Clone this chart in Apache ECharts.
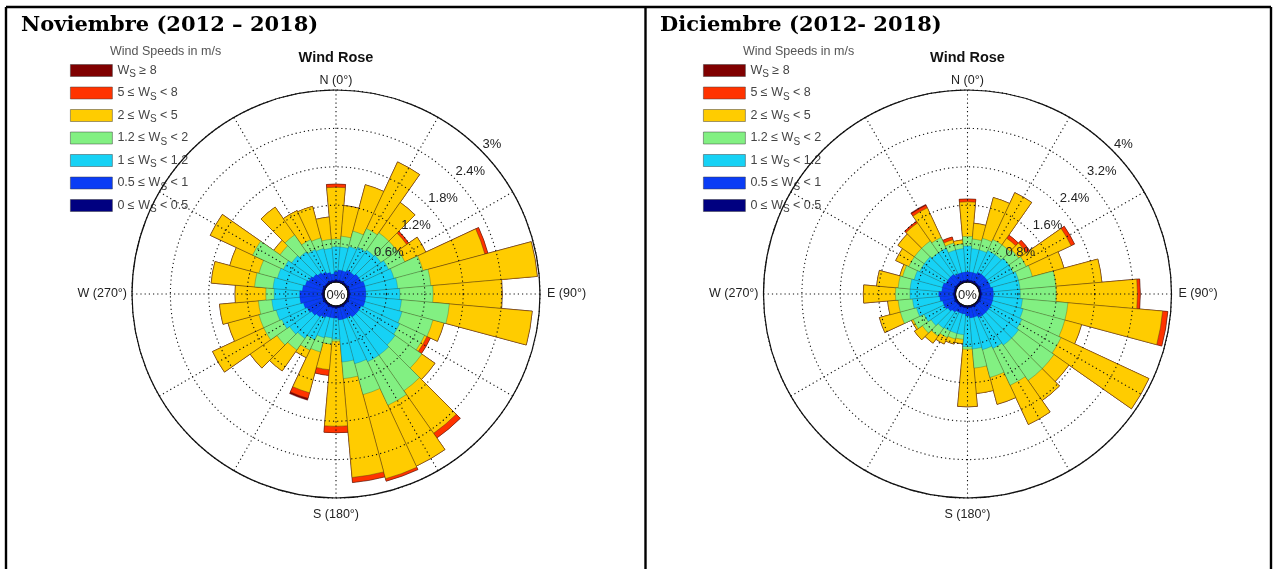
<!DOCTYPE html>
<html>
<head>
<meta charset="utf-8">
<script src="https://cdn.jsdelivr.net/npm/echarts@6/dist/echarts.min.js"></script>
<style>
  html, body { margin: 0; padding: 0; background: #fff; }
  #chart { width: 1278px; height: 569px; }
</style>
</head>
<body>
<div id="chart"></div>
<script>
// Direction bins, degrees clockwise from north
const directions = ['0','10','20','30','40','50','60','70','80','90','100','110',
  '120','130','140','150','160','170','180','190','200','210','220','230',
  '240','250','260','270','280','290','300','310','320','330','340','350'];

// Speed classes, lowest first
const speedClasses = ['0 ≤ Ws < 0.5', '0.5 ≤ Ws < 1', '1 ≤ Ws < 1.2', '1.2 ≤ Ws < 2',
  '2 ≤ Ws < 5', '5 ≤ Ws < 8', 'Ws ≥ 8'];
const speedColors = ['#000080', '#0a3cf5', '#16d2f5', '#82f082', '#ffcc00', '#ff3300', '#800000'];
// outline of each class (light on the small inner rings)
const speedBorders = ['rgba(0,0,60,0.3)', 'rgba(0,0,80,0.25)', 'rgba(20,60,80,0.4)',
  'rgba(40,70,40,0.5)', 'rgba(70,55,20,0.7)', 'rgba(90,30,10,0.7)', 'rgba(60,0,0,0.7)'];

// Angle axis tick labels
const compassLabels = { 0: '{n|N (0°)}', 90: '{e|E (90°)}', 180: '{s|S (180°)}', 270: '{w|W (270°)}' };

// ---- Noviembre: cumulative frequency (%) up to the top of each speed class ----
const novUpTo05 = [0.03,0.03,0.03,0.03,0.03,0.03,0.03,0.03,0.03,0.03,0.03,0.03,
  0.03,0.03,0.03,0.03,0.03,0.03,0.03,0.03,0.03,0.03,0.03,0.03,
  0.03,0.03,0.03,0.03,0.03,0.03,0.03,0.03,0.03,0.03,0.03,0.03];
const novUpTo1 = [0.16,0.19,0.19,0.22,0.22,0.25,0.25,0.28,0.28,0.28,0.28,0.28,
  0.25,0.25,0.25,0.22,0.22,0.22,0.19,0.19,0.19,0.22,0.25,0.28,
  0.31,0.34,0.38,0.38,0.34,0.31,0.28,0.25,0.22,0.19,0.16,0.13];
const novUpTo12 = [0.55,0.55,0.58,0.62,0.65,0.67,0.72,0.75,0.78,0.81,0.84,0.88,
  0.91,0.94,0.98,0.98,0.94,0.88,0.52,0.50,0.52,0.60,0.66,0.70,
  0.75,0.78,0.82,0.78,0.80,0.76,0.72,0.66,0.62,0.58,0.55,0.53];
const novUpTo2 = [0.67,0.72,0.83,0.94,0.98,0.98,1.00,1.22,1.30,1.33,1.59,1.38,
  1.34,1.45,1.66,1.73,1.44,1.14,0.55,0.60,0.75,0.78,0.88,0.94,
  1.06,1.06,1.03,0.91,1.09,1.06,1.25,0.88,0.94,0.75,0.72,0.67];
const novUpTo5 = [1.48,1.20,1.58,2.09,1.56,1.16,1.36,2.22,2.97,2.41,2.89,1.56,
  1.38,1.70,2.47,2.78,2.80,2.69,1.88,1.00,1.41,0.91,1.28,1.45,
  1.94,1.56,1.64,1.39,1.77,1.53,1.98,1.00,1.47,1.25,1.23,1.02];
const novUpTo8 = [1.53,1.20,1.58,2.09,1.56,1.20,1.36,2.27,2.97,2.41,2.89,1.56,
  1.44,1.70,2.56,2.78,2.84,2.77,1.98,1.09,1.50,0.91,1.28,1.45,
  1.94,1.56,1.64,1.39,1.77,1.53,1.98,1.00,1.47,1.25,1.23,1.02];
const novAll = [1.53,1.20,1.58,2.09,1.56,1.20,1.36,2.27,2.97,2.41,2.89,1.56,
  1.44,1.70,2.56,2.78,2.84,2.77,1.98,1.09,1.53,0.91,1.28,1.45,
  1.94,1.56,1.64,1.39,1.77,1.53,1.98,1.00,1.47,1.25,1.23,1.02];

// ---- Diciembre: cumulative frequency (%) up to the top of each speed class ----
const decUpTo05 = [0.04,0.04,0.04,0.04,0.04,0.04,0.04,0.04,0.04,0.04,0.04,0.04,
  0.04,0.04,0.04,0.04,0.04,0.04,0.04,0.04,0.04,0.04,0.04,0.04,
  0.04,0.04,0.04,0.04,0.04,0.04,0.04,0.04,0.04,0.04,0.04,0.04];
const decUpTo1 = [0.21,0.21,0.21,0.25,0.25,0.25,0.25,0.25,0.29,0.29,0.29,0.29,
  0.29,0.29,0.29,0.29,0.25,0.25,0.21,0.17,0.17,0.17,0.21,0.25,
  0.29,0.29,0.33,0.35,0.29,0.29,0.25,0.25,0.25,0.21,0.21,0.21];
const decUpTo12 = [0.75,0.70,0.70,0.75,0.75,0.80,0.80,0.85,0.85,0.85,0.90,0.95,
  1.00,1.05,1.05,1.00,0.95,0.90,0.85,0.60,0.60,0.60,0.62,0.68,
  0.75,0.85,0.90,0.95,0.95,0.90,0.85,0.85,0.80,0.80,0.70,0.70];
const decUpTo2 = [0.95,0.90,0.95,1.00,1.00,1.05,1.10,1.15,1.60,1.60,1.85,1.85,
  1.90,1.95,1.95,1.85,1.55,1.30,0.90,0.70,0.72,0.75,0.82,0.90,
  1.00,1.20,1.20,1.25,1.20,1.15,1.10,1.10,1.10,1.05,0.85,0.80];
const decUpTo5 = [1.67,1.23,1.83,2.08,1.17,1.25,2.13,1.83,2.56,3.29,3.83,2.21,
  3.92,2.33,2.46,2.75,2.13,1.83,2.10,0.79,0.83,0.90,1.00,1.10,
  1.04,1.65,1.42,1.92,1.65,1.21,1.40,1.52,1.56,1.73,0.92,0.88];
const decUpTo8 = [1.73,1.23,1.83,2.08,1.25,1.33,2.21,1.83,2.56,3.35,3.94,2.21,
  3.92,2.33,2.46,2.75,2.13,1.83,2.10,0.79,0.83,0.90,1.00,1.10,
  1.04,1.65,1.42,1.92,1.65,1.21,1.40,1.52,1.60,1.79,0.98,0.88];
const decAll = [1.73,1.23,1.83,2.08,1.25,1.33,2.21,1.83,2.56,3.35,3.94,2.21,
  3.92,2.33,2.46,2.75,2.13,1.83,2.10,0.79,0.83,0.90,1.00,1.10,
  1.04,1.65,1.42,1.92,1.65,1.21,1.40,1.52,1.60,1.81,0.98,0.88];

const roses = [
  { title: 'Noviembre (2012 – 2018)', titleX: 21, center: [336, 294], max: 3, step: 0.6, legendX: 65,
    cum: [novUpTo05, novUpTo1, novUpTo12, novUpTo2, novUpTo5, novUpTo8, novAll] },
  { title: 'Diciembre (2012- 2018)', titleX: 660, center: [967.5, 294], max: 4, step: 0.8, legendX: 698,
    cum: [decUpTo05, decUpTo1, decUpTo12, decUpTo2, decUpTo5, decUpTo8, decAll] }
];

const RADIUS = [12, 204];
const GRID_COLOR = '#111';
const LABEL_FONT = 'Liberation Sans';

const polar = [], angleAxis = [], radiusAxis = [], series = [], legend = [], title = [], graphic = [];

roses.forEach((rose, k) => {
  const base = k * 3;
  for (let j = 0; j < 3; j++) polar.push({ center: rose.center, radius: RADIUS });

  // dotted grid, outer circle and compass labels, above the bars
  angleAxis.push({
    polarIndex: base, type: 'value', min: 0, max: 360, interval: 30,
    startAngle: 90, clockwise: true, z: 10,
    axisLine: { lineStyle: { color: '#111', width: 1.2 } },
    axisTick: { show: false },
    axisLabel: {
      margin: 3, color: '#222', fontSize: 12.5, fontFamily: LABEL_FONT,
      formatter: v => compassLabels[v] || '',
      rich: {
        n: { fontSize: 12.5, fontFamily: LABEL_FONT, color: '#222' },
        e: { fontSize: 12.5, fontFamily: LABEL_FONT, color: '#222', padding: [0, 0, 0, 4] },
        s: { fontSize: 12.5, fontFamily: LABEL_FONT, color: '#222', padding: [7, 0, 0, 0] },
        w: { fontSize: 12.5, fontFamily: LABEL_FONT, color: '#222', padding: [0, 2, 0, 0] }
      }
    },
    splitLine: { lineStyle: { color: GRID_COLOR, width: 1.1, type: [1.2, 3] } }
  });
  radiusAxis.push({
    polarIndex: base, type: 'value', min: 0, max: rose.max, interval: rose.step, z: 10,
    axisLine: { show: false }, axisTick: { show: false }, axisLabel: { show: false },
    splitLine: { lineStyle: { color: GRID_COLOR, width: 1.1, type: [1.2, 3] } }
  });

  // direction bins for the bars
  angleAxis.push({
    polarIndex: base + 1, type: 'category', data: directions,
    startAngle: 95, clockwise: true, show: false
  });
  radiusAxis.push({ polarIndex: base + 1, type: 'value', min: 0, max: rose.max, show: false });

  // percentage labels along the north-east diagonal
  angleAxis.push({ polarIndex: base + 2, type: 'value', min: 0, max: 360, startAngle: 45, show: false });
  radiusAxis.push({
    polarIndex: base + 2, type: 'value', min: 0, max: rose.max, interval: rose.step, z: 11,
    axisLine: { show: false }, axisTick: { show: false }, splitLine: { show: false },
    axisLabel: {
      color: '#222', fontSize: 13, fontFamily: LABEL_FONT, align: 'left', padding: [0, 0, 0, 8],
      formatter: v => v === 0 ? '' : (+v.toFixed(1)) + '%'
    }
  });

  // widest class first so the narrower ones sit on top
  for (let i = speedClasses.length - 1; i >= 0; i--) {
    series.push({
      type: 'bar', coordinateSystem: 'polar', polarIndex: base + 1,
      name: speedClasses[i], data: rose.cum[i],
      barGap: '-100%', barCategoryGap: '0%',
      itemStyle: { color: speedColors[i], borderColor: speedBorders[i], borderWidth: 0.6 },
      emphasis: { disabled: true }, silent: true
    });
  }

  legend.push({
    left: rose.legendX, top: 59, orient: 'vertical', icon: 'rect',
    itemWidth: 42, itemHeight: 12, itemGap: 7, selectedMode: false,
    data: speedClasses.slice().reverse(),
    itemStyle: { borderColor: 'rgba(60,60,60,0.6)', borderWidth: 0.8 },
    formatter: name => {
      const parts = name.split('Ws');
      return '{a|' + parts[0] + 'W}{s|S}{a|' + parts[1] + '}';
    },
    textStyle: {
      rich: {
        a: { fontSize: 12.5, color: '#444', fontFamily: LABEL_FONT, lineHeight: 14 },
        s: { fontSize: 10, color: '#444', fontFamily: LABEL_FONT, padding: [8, 0, 0, 0] }
      }
    }
  });

  title.push({
    text: rose.title, left: rose.titleX, top: 15, padding: 0,
    textStyle: { fontFamily: 'DejaVu Serif', fontWeight: 'bold', fontSize: 21, color: '#000' }
  });
  title.push({
    text: 'Wind Rose', left: rose.center[0], top: 50, padding: 0, textAlign: 'center',
    textStyle: { fontFamily: LABEL_FONT, fontWeight: 'bold', fontSize: 14.5, color: '#111' }
  });
  title.push({
    text: 'Wind Speeds in m/s', left: rose.legendX + 45, top: 45, padding: 0,
    textStyle: { fontFamily: LABEL_FONT, fontWeight: 'normal', fontSize: 12.5, color: '#555' }
  });

  graphic.push({
    type: 'text', x: rose.center[0], y: rose.center[1] + 1, z: 20,
    style: { text: '0%', fontSize: 13, fontFamily: LABEL_FONT, fill: '#222',
             textAlign: 'center', textVerticalAlign: 'middle' }
  });
});

// table frame around the two panels
[[6, 7, 1271, 7], [6, 7, 6, 569], [645.5, 7, 645.5, 569], [1271, 7, 1271, 569]].forEach(s => {
  graphic.push({ type: 'line', shape: { x1: s[0], y1: s[1], x2: s[2], y2: s[3] },
                 style: { stroke: '#000', lineWidth: 2.4 }, z: 30 });
});

const chart = echarts.init(document.getElementById('chart'), null, { renderer: 'canvas' });
chart.setOption({
  animation: false,
  backgroundColor: '#fff',
  title, legend, polar, angleAxis, radiusAxis, series, graphic
});
</script>
</body>
</html>
